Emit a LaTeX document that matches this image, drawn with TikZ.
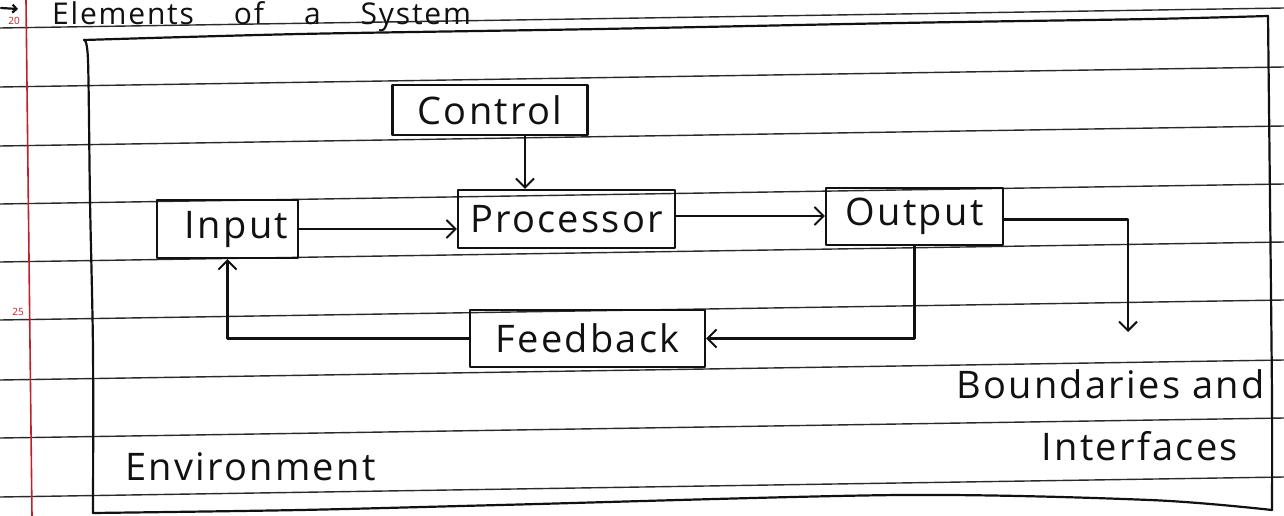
\documentclass[tikz,border=0pt]{standalone}
\usepackage{fontspec}
\setmainfont{Open Sans}
\usetikzlibrary{arrows.meta}
\definecolor{ink}{HTML}{111111}
\definecolor{rule}{HTML}{2A2A2A}
\definecolor{margin}{HTML}{C0202A}
\newcommand\handfont{\fontsize{38}{42}\selectfont\addfontfeatures{LetterSpace=6}}
\tikzset{
  inkline/.style={draw=ink, line width=2.2pt, line join=round, line cap=round},
  box/.style={inkline, rectangle, inner sep=0pt, font=\handfont, text=ink},
  flow/.style={inkline, -{Straight Barb[length=9pt,width=18pt,line width=2pt]}},
  ruled/.style={draw=rule, line width=1.4pt},
  hand/.style={font=\handfont, text=ink, inner sep=0pt}
}
\begin{document}
\begin{tikzpicture}[x=1pt,y=-1pt]
\useasboundingbox (0,0) rectangle (1284,516);
\fill[white] (0,0) rectangle (1284,516);
% ruled paper lines
\foreach \yl/\yr in {28/8, 87/67, 146/126, 204/184, 262/242, 320/300, 380/360, 438/418, 497/477}
  \draw[ruled] (0,\yl) -- (1284,\yr);
% margin
\draw[margin, line width=1.6pt] (26,0) -- (32,516);
\node[text=margin, font=\fontsize{10}{12}\selectfont, inner sep=0pt] (n20) at (14,21) {20};
\node[text=margin, font=\fontsize{10}{12}\selectfont, inner sep=0pt] (n25) at (18,312) {25};
% title
\draw[inkline, -{Straight Barb[length=4pt,width=8pt]}] (1,8) -- (18,9);
\node[anchor=base west, font=\fontsize{30}{32}\selectfont\addfontfeatures{LetterSpace=6}, text=ink, inner sep=0pt] (title) at (52,25) {Elements\hspace{40pt}of\hspace{40pt}a\hspace{40pt}System};
% environment boundary
\draw[inkline] plot[smooth] coordinates {(84,40) (300,34) (600,29) (900,23) (1150,19) (1268,16)};
\draw[inkline] plot[smooth] coordinates {(1268,16) (1270,200) (1272,400) (1272,510)};
\draw[inkline] plot[smooth] coordinates {(93,513) (300,510) (500,505) (900,495) (1150,500) (1272,510)};
\draw[inkline] plot[smooth] coordinates {(84,40) (88,60) (90,200) (93,350) (93,513)};
% boxes
\node[box, minimum width=195pt, minimum height=50pt] (ctrl) at (490,110) {Control};
\node[box, minimum width=217pt, minimum height=58pt] (proc) at (566.5,219) {Processor};
\node[box, minimum width=141pt, minimum height=58pt] (in) at (227.5,229) {\hspace*{18pt}Input};
\node[box, minimum width=177pt, minimum height=57pt] (out) at (914.5,216.5) {Output};
\node[box, minimum width=235pt, minimum height=57pt] (fb) at (587.5,338.5) {Feedback};
\coordinate (bnd) at (1128,332);
% connectors
\draw[flow] ([xshift=35pt]ctrl.south) -- ([xshift=35pt]ctrl.south |- proc.north);
\draw[flow] (in.east) -- (in.east -| proc.west);
\draw[flow] ([yshift=3pt]proc.east) -- ([yshift=3pt]proc.east -| out.west);
\draw[flow] ([yshift=-3pt]out.east) -| (bnd);
\draw[flow] (out.south) |- (fb.east);
\draw[flow] (fb.west) -| (in.south);
% labels
\node[hand, anchor=base east] (bi1) at (1265,398) {Boundaries and};
\node[hand, anchor=base east] (bi2) at (1238,460) {Interfaces};
\node[hand, anchor=base west] (env) at (125,480) {Environment};
\end{tikzpicture}
\end{document}
